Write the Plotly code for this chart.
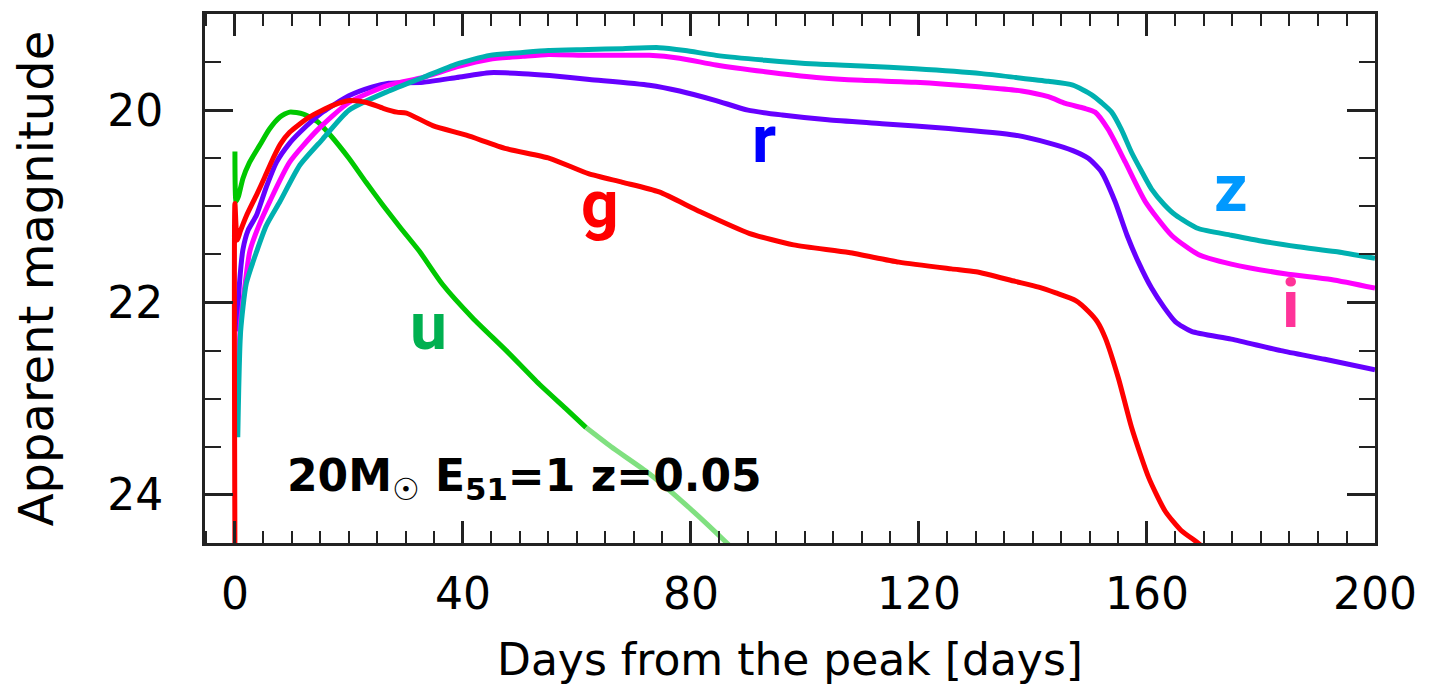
import plotly.graph_objects as go

# ---- data (days from peak, apparent magnitude) ----
u_day = [0, 0.2, 0.6, 1.4, 2.5, 4.4, 6, 7.9, 9.6, 12, 14.5, 16.6, 20, 23, 26, 29, 32.4, 36.4, 41.7, 47.6, 53.4, 58, 61.6]
u_mag = [20.43, 20.95, 20.9, 20.71, 20.55, 20.36, 20.2, 20.07, 20.02, 20.04, 20.12, 20.25, 20.5, 20.75, 20.99, 21.22, 21.47, 21.81, 22.16, 22.5, 22.85, 23.1, 23.3]
u_tail_day = [61.6, 66, 72.7, 80, 86.3, 88]
u_tail_mag = [23.3, 23.5, 23.78, 24.15, 24.5, 24.6]

g_day = [0, 0, 0.4, 1.0, 2.0, 3.8, 5.2, 6.7, 8, 9.6, 13.1, 17.2, 20.1, 23.1, 26, 28.4, 30.1, 34.7, 40.6, 47.6, 55.2, 62, 68, 74.4, 81.4, 90.2, 98, 107.7, 116.5, 125.7, 130, 136.9, 141, 144, 147.5, 149.7, 151.3, 152.7, 155, 157.3, 160.3, 163.2, 166, 168.5, 170]
g_mag = [24.6, 20.97, 21.35, 21.25, 21.1, 20.88, 20.7, 20.5, 20.35, 20.23, 20.07, 19.95, 19.9, 19.92, 19.98, 20.02, 20.03, 20.16, 20.26, 20.4, 20.5, 20.66, 20.75, 20.85, 21.05, 21.28, 21.4, 21.48, 21.58, 21.65, 21.68, 21.78, 21.84, 21.9, 21.98, 22.09, 22.2, 22.37, 22.79, 23.3, 23.82, 24.17, 24.37, 24.48, 24.55]

r_day = [0.3, 0.8, 1.4, 2.3, 3.8, 5.5, 7.3, 9.5, 11.4, 15.4, 20, 24, 27, 33, 38.9, 44.7, 50.5, 55.2, 62.2, 72.7, 78, 84.4, 90, 96, 104, 113.5, 125.2, 136.9, 142.7, 147, 149.7, 152, 154.4, 156.5, 158.5, 160.8, 163, 165, 167.8, 174.8, 183.5, 191.2, 200]
r_mag = [22.3, 21.8, 21.45, 21.25, 21.09, 20.8, 20.54, 20.35, 20.23, 20.02, 19.85, 19.76, 19.72, 19.71, 19.66, 19.61, 19.62, 19.64, 19.68, 19.74, 19.8, 19.9, 20.0, 20.05, 20.1, 20.14, 20.19, 20.26, 20.34, 20.42, 20.5, 20.64, 20.95, 21.3, 21.58, 21.85, 22.05, 22.2, 22.3, 22.38, 22.5, 22.59, 22.7]

i_day = [0.5, 1.0, 1.8, 2.6, 4.2, 6.1, 9.6, 14.4, 20, 27, 33, 38.9, 44.7, 50.5, 55, 62, 72.7, 78, 84.4, 93, 102, 110, 119.4, 131, 138, 142.7, 145.7, 149, 150.9, 153.2, 156.2, 159.7, 164.3, 169, 174.8, 184.2, 192.3, 200]
i_mag = [22.8, 22.2, 21.8, 21.47, 21.2, 20.95, 20.54, 20.21, 19.92, 19.74, 19.66, 19.55, 19.47, 19.44, 19.42, 19.43, 19.43, 19.46, 19.53, 19.6, 19.66, 19.69, 19.71, 19.76, 19.8, 19.86, 19.93, 19.98, 20.02, 20.2, 20.54, 20.95, 21.3, 21.5, 21.6, 21.7, 21.76, 21.85]

z_day = [0.5, 1.0, 2.0, 3.8, 5.5, 7.9, 11.4, 15.4, 20, 27, 33, 38.9, 44.7, 50.5, 55, 62, 68, 74.4, 79, 84.4, 93, 102, 110, 119.4, 131, 137, 142.7, 147, 150.3, 152, 153.8, 155.5, 157.3, 159, 160.8, 163, 165, 169, 174.8, 180, 186.5, 193, 200]
z_mag = [23.4, 22.3, 21.8, 21.47, 21.2, 20.95, 20.57, 20.3, 20.0, 19.8, 19.66, 19.52, 19.43, 19.4, 19.38, 19.37, 19.36, 19.35, 19.38, 19.43, 19.48, 19.52, 19.54, 19.57, 19.62, 19.66, 19.7, 19.74, 19.84, 19.92, 20.02, 20.2, 20.44, 20.63, 20.82, 20.98, 21.09, 21.23, 21.3, 21.36, 21.42, 21.47, 21.54]

band_labels = ["u", "g", "r", "z", "i"]
label_day = [34.0, 64.1, 92.8, 174.8, 185.1]
label_mag = [22.25, 20.98, 20.3, 20.81, 22.02]
label_colors = ["#00b050", "#ff0000", "#0000ff", "#0099ff", "#ff3399"]

x_ticks = [0, 40, 80, 120, 160, 200]
y_ticks = [20, 22, 24]

LW = 5
SM = 0.6
fig = go.Figure()
fig.add_trace(go.Scatter(x=u_day, y=u_mag, mode="lines", line=dict(color="#00c800", width=LW, shape="spline", smoothing=SM), name="u"))
fig.add_trace(go.Scatter(x=u_tail_day, y=u_tail_mag, mode="lines", line=dict(color="#80e080", width=LW, shape="spline", smoothing=SM), name="u (tail)"))
fig.add_trace(go.Scatter(x=r_day, y=r_mag, mode="lines", line=dict(color="#6600ff", width=LW, shape="spline", smoothing=SM), name="r"))
fig.add_trace(go.Scatter(x=i_day, y=i_mag, mode="lines", line=dict(color="#ff00ff", width=LW, shape="spline", smoothing=SM), name="i"))
fig.add_trace(go.Scatter(x=z_day, y=z_mag, mode="lines", line=dict(color="#00b0b0", width=LW, shape="spline", smoothing=SM), name="z"))
fig.add_trace(go.Scatter(x=g_day, y=g_mag, mode="lines", line=dict(color="#ff0000", width=LW, shape="spline", smoothing=SM), name="g"))

for t, xd, yd, c in zip(band_labels, label_day, label_mag, label_colors):
    fig.add_annotation(x=xd, y=yd, text=f"<b>{t}</b>", showarrow=False,
                       font=dict(family="Roboto", size=66, color=c),
                       xanchor="center", yanchor="middle")

fig.add_annotation(x=8.8, y=23.83, xanchor="left", yanchor="middle", showarrow=False,
                   text="<b>20M<sub><span style='font-weight:normal'>☉</span></sub> E<sub>51</sub>=1 z=0.05</b>",
                   font=dict(family="DejaVu Sans", size=44, color="black"))

axis_common = dict(showgrid=False, zeroline=False, showline=True, linecolor="#222", linewidth=3,
                   mirror="ticks", ticks="inside", tickcolor="#222", tickwidth=2.5,
                   tickfont=dict(family="DejaVu Sans", size=44, color="black"))

fig.update_xaxes(range=[-5.25, 200], tickvals=x_ticks, ticklen=22,
                 minor=dict(dtick=5, tick0=0, ticks="inside", ticklen=12, tickcolor="#222", tickwidth=2),
                 title=dict(text="Days from the peak [days]", font=dict(family="DejaVu Sans", size=44, color="black"), standoff=27),
                 ticklabelstandoff=10, **axis_common)
fig.update_yaxes(range=[24.5, 19], tickvals=y_ticks, ticklen=28,
                 minor=dict(dtick=0.5, tick0=0, ticks="inside", ticklen=16, tickcolor="#222", tickwidth=2),
                 title=dict(text="Apparent magnitude", font=dict(family="DejaVu Sans", size=48, color="black"), standoff=45),
                 ticklabelstandoff=30, **axis_common)

# page body has an 8px default margin; compensate so the plot sits where the reference has it
fig.update_layout(width=1424, height=678, margin=dict(l=197, r=57, t=3, b=143),
                  plot_bgcolor="white", paper_bgcolor="white", showlegend=False)

fig.write_html("out.html")
